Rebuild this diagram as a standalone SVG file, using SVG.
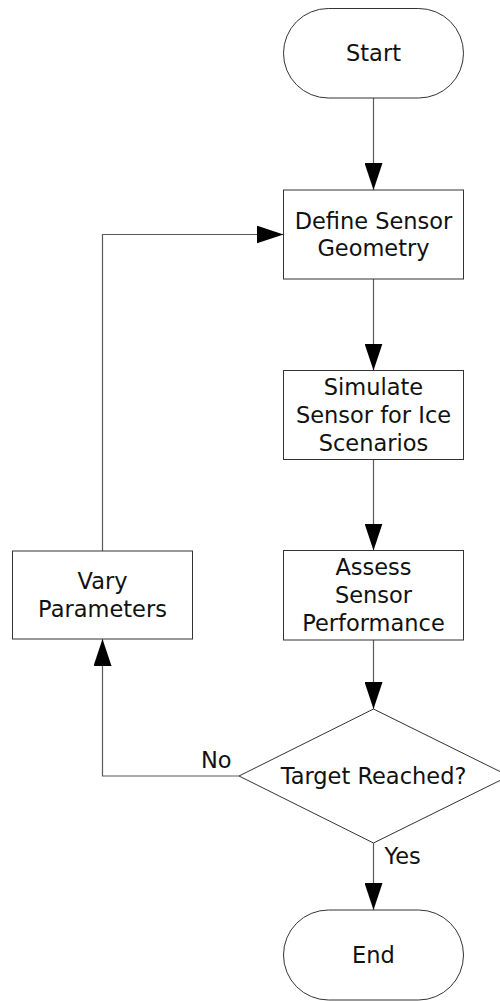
<svg xmlns="http://www.w3.org/2000/svg" width="500" height="1001" viewBox="0 0 500 1001">
  <style>
    .shape { fill: #ffffff; stroke: #333333; stroke-width: 1; }
    .edge { fill: none; stroke: #5a5a5a; stroke-width: 1.2; }
    .label { font-family: "DejaVu Sans", sans-serif; font-size: 22.5px; fill: #111111; text-anchor: middle; }
    .elabel { font-family: "DejaVu Sans", sans-serif; font-size: 22.5px; fill: #111111; }
  </style>
  <defs>
    <marker id="arrow" viewBox="0 0 27 18" refX="27" refY="9" markerWidth="27" markerHeight="18" markerUnits="userSpaceOnUse" orient="auto">
      <path d="M0,0 L27,9 L0,18 Z" fill="#000000"/>
    </marker>
  </defs>

  <rect width="500" height="1001" fill="#ffffff"/>

  <!-- connectors -->
  <g id="edges">
    <path class="edge" d="M373.5,98 L373.5,190" marker-end="url(#arrow)"/>
    <path class="edge" d="M373.5,279 L373.5,370.5" marker-end="url(#arrow)"/>
    <path class="edge" d="M373.5,459.5 L373.5,550.5" marker-end="url(#arrow)"/>
    <path class="edge" d="M373.5,640 L373.5,709" marker-end="url(#arrow)"/>
    <path class="edge" d="M373.5,843 L373.5,910" marker-end="url(#arrow)"/>
    <path class="edge" d="M239,776 L102.5,776 L102.5,639" marker-end="url(#arrow)"/>
    <path class="edge" d="M102.5,551 L102.5,234.5 L283.5,234.5" marker-end="url(#arrow)"/>
    <text class="elabel" x="201" y="768">No</text>
    <text class="elabel" x="384.5" y="864">Yes</text>
  </g>

  <!-- nodes -->
  <g id="start">
    <rect class="shape" x="283.5" y="8.5" width="180" height="89.5" rx="44.75" ry="44.75"/>
    <text class="label" x="373.5" y="61">Start</text>
  </g>

  <g id="define-geometry">
    <rect class="shape" x="283.5" y="190" width="180" height="89"/>
    <text class="label" x="373.5" y="228.5">Define Sensor</text>
    <text class="label" x="373.5" y="256">Geometry</text>
  </g>

  <g id="simulate">
    <rect class="shape" x="283.5" y="370.5" width="180" height="89"/>
    <text class="label" x="373.5" y="395">Simulate</text>
    <text class="label" x="373.5" y="423">Sensor for Ice</text>
    <text class="label" x="373.5" y="451">Scenarios</text>
  </g>

  <g id="assess">
    <rect class="shape" x="283.5" y="550.5" width="180" height="89.5"/>
    <text class="label" x="373.5" y="575">Assess</text>
    <text class="label" x="373.5" y="603">Sensor</text>
    <text class="label" x="373.5" y="631">Performance</text>
  </g>

  <g id="target-reached">
    <polygon class="shape" points="373.5,709 509,776 373.5,843 239,776"/>
    <text class="label" x="373.5" y="784">Target Reached?</text>
  </g>

  <g id="vary-parameters">
    <rect class="shape" x="12.5" y="551" width="180" height="88"/>
    <text class="label" x="102.5" y="588.5">Vary</text>
    <text class="label" x="102.5" y="616.5">Parameters</text>
  </g>

  <g id="end">
    <rect class="shape" x="283.5" y="910" width="180" height="90" rx="45" ry="45"/>
    <text class="label" x="373.5" y="963">End</text>
  </g>
</svg>
